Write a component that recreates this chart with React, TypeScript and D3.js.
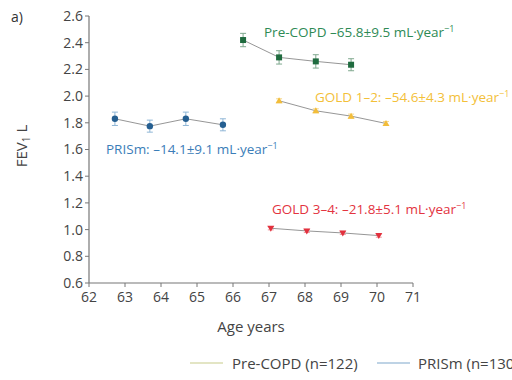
import React from "react";
import * as d3 from "d3";

const preAges = [66.28, 67.28, 68.3, 69.28];
const preVals = [2.42, 2.29, 2.26, 2.235];
const preErr = [0.05, 0.05, 0.05, 0.045];

const gold12Ages = [67.28, 68.3, 69.28, 70.25];
const gold12Vals = [1.965, 1.89, 1.85, 1.795];
const gold12Err = [0.015, 0.015, 0.015, 0.015];

const prismAges = [62.72, 63.69, 64.69, 65.72];
const prismVals = [1.83, 1.775, 1.83, 1.785];
const prismErr = [0.05, 0.045, 0.05, 0.045];

const gold34Ages = [67.05, 68.05, 69.05, 70.05];
const gold34Vals = [1.01, 0.99, 0.975, 0.955];
const gold34Err = [0.012, 0.012, 0.012, 0.012];

const xTicks = [62, 63, 64, 65, 66, 67, 68, 69, 70, 71];
const yTicks = [0.6, 0.8, 1.0, 1.2, 1.4, 1.6, 1.8, 2.0, 2.2, 2.4, 2.6];

const FONT = "'Open Sans', 'Noto Sans', sans-serif";

export default function App() {
  const left = 89, right = 413, top = 16, bottom = 283;
  const x = d3.scaleLinear().domain([62, 71]).range([left, right]);
  const y = d3.scaleLinear().domain([0.6, 2.6]).range([bottom, top]);
  const line = d3.line<[number, number]>().x(d => x(d[0])).y(d => y(d[1]));

  const series = [
    { ages: preAges, vals: preVals, err: preErr, color: "#1f6b3f", errColor: "#7fa88e", shape: "square" },
    { ages: gold12Ages, vals: gold12Vals, err: gold12Err, color: "#f2bd3a", errColor: "#f5d78a", shape: "tri" },
    { ages: prismAges, vals: prismVals, err: prismErr, color: "#255f91", errColor: "#8fb6d6", shape: "circle" },
    { ages: gold34Ages, vals: gold34Vals, err: gold34Err, color: "#e2303d", errColor: "#f09aa0", shape: "itri" },
  ];

  const marker = (shape: string, cx: number, cy: number, color: string, k: number) => {
    if (shape === "square") return <rect key={k} x={cx - 3} y={cy - 3} width={6} height={6} fill={color} />;
    if (shape === "circle") return <circle key={k} cx={cx} cy={cy} r={3.2} fill={color} />;
    if (shape === "tri") return <path key={k} d={`M${cx},${cy - 3.5}L${cx + 3.5},${cy + 2.5}L${cx - 3.5},${cy + 2.5}Z`} fill={color} />;
    return <path key={k} d={`M${cx},${cy + 3.5}L${cx + 3.5},${cy - 2.5}L${cx - 3.5},${cy - 2.5}Z`} fill={color} />;
  };

  return (
    <svg width={512} height={380} style={{ position: "absolute", left: 0, top: 0, background: "#fff" }} fontFamily={FONT}>
      <text x={11} y={22} fontSize={14} fill="#333">a)</text>
      <line x1={left} x2={left} y1={top} y2={bottom} stroke="#777" strokeWidth={1.2} />
      <line x1={left} x2={right} y1={bottom} y2={bottom} stroke="#777" strokeWidth={1.2} />
      {yTicks.map(t => (
        <g key={"y" + t}>
          <line x1={left - 4} x2={left} y1={y(t)} y2={y(t)} stroke="#777" />
          <text x={left - 6} y={y(t)} dy="0.35em" textAnchor="end" fontSize={14} fill="#444">{t.toFixed(1)}</text>
        </g>
      ))}
      {xTicks.map(t => (
        <g key={"x" + t}>
          <line x1={x(t)} x2={x(t)} y1={bottom} y2={bottom + 4} stroke="#777" />
          <text x={x(t)} y={bottom + 19} textAnchor="middle" fontSize={14} fill="#444">{t}</text>
        </g>
      ))}
      <text x={251} y={332} textAnchor="middle" fontSize={15} fill="#444">Age years</text>
      <text transform={`translate(27,146) rotate(-90)`} textAnchor="middle" fontSize={15} fill="#444">
        FEV<tspan fontSize={10} dy={3}>1</tspan><tspan dy={-3}> L</tspan>
      </text>

      {series.map((s, i) => {
        const pts = s.ages.map((a, j) => [a, s.vals[j]] as [number, number]);
        return (
          <g key={i}>
            <path d={line(pts) || ""} fill="none" stroke="#8a8a8a" strokeWidth={0.9} />
            {pts.map((p, j) => (
              <g key={j}>
                <line x1={x(p[0])} x2={x(p[0])} y1={y(p[1] - s.err[j])} y2={y(p[1] + s.err[j])} stroke={s.errColor} strokeWidth={1} />
                <line x1={x(p[0]) - 3} x2={x(p[0]) + 3} y1={y(p[1] - s.err[j])} y2={y(p[1] - s.err[j])} stroke={s.errColor} strokeWidth={1} />
                <line x1={x(p[0]) - 3} x2={x(p[0]) + 3} y1={y(p[1] + s.err[j])} y2={y(p[1] + s.err[j])} stroke={s.errColor} strokeWidth={1} />
                {marker(s.shape, x(p[0]), y(p[1]), s.color, j)}
              </g>
            ))}
          </g>
        );
      })}

      <text x={264} y={37} fontSize={13.5} fill="#2e8a55">Pre-COPD –65.8±9.5 mL·year<tspan fontSize={9} dy={-5}>−1</tspan></text>
      <text x={315} y={102} fontSize={13.5} fill="#f3c038">GOLD 1–2: –54.6±4.3 mL·year<tspan fontSize={9} dy={-5}>−1</tspan></text>
      <text x={106} y={154} fontSize={13.5} fill="#3b7db8">PRISm: –14.1±9.1 mL·year<tspan fontSize={9} dy={-5}>−1</tspan></text>
      <text x={272} y={214} fontSize={13.5} fill="#e3343f">GOLD 3–4: –21.8±5.1 mL·year<tspan fontSize={9} dy={-5}>−1</tspan></text>

      <line x1={190} x2={223} y1={363} y2={363} stroke="#c8cc8a" strokeWidth={1.2} />
      <text x={232} y={369} fontSize={15} fill="#444">Pre-COPD (n=122)</text>
      <line x1={377} x2={410} y1={363} y2={363} stroke="#7ea8cc" strokeWidth={1.2} />
      <text x={418} y={369} fontSize={15} fill="#444">PRISm (n=130)</text>
    </svg>
  );
}
